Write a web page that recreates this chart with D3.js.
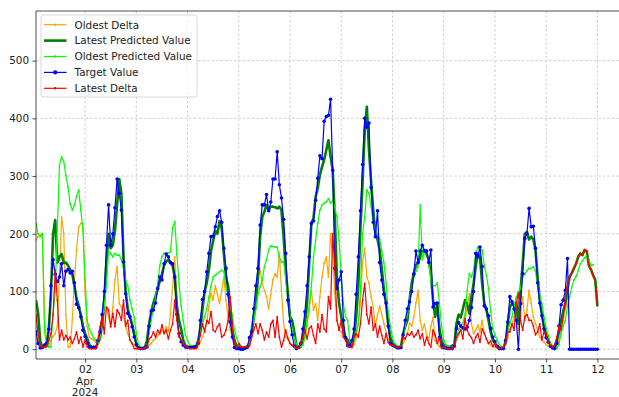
<!DOCTYPE html>
<html>
<head>
<meta charset="utf-8">
<script src="https://cdn.jsdelivr.net/npm/d3@7"></script>
<style>
  html, body { margin: 0; padding: 0; background: #fff; }
  svg { display: block; font-family: "DejaVu Sans", sans-serif; }
</style>
</head>
<body>
<div id="chart"></div>
<script>
// hourly readings, the first one is 2024-04-01 01:00, the last 2024-04-12 00:00
const startTime = new Date(2024, 3, 1, 1);

const targetValue = [
  30,10,2,3, 7,10,35,110, 155,130,117,125, 148,110,135,138, 132,135,115,78, 72,56,33,
  22,10,4,3, 3,3,15,30, 60,100,180,250, 180,200,245,295, 270,241,151,96, 62,56,39,21,
  8,2,1,1, 2,4,40,66, 68,80,105,125, 120,148,165,160, 150,148,125,60, 27,13,7,4,
  3,3,3,3, 4,10,50,86, 100,134,166,195, 196,212,230,240, 220,175,140,95, 47,21,3,1,
  1,0,0,2, 4,20,30,70, 110,140,215,250, 250,268,240,255, 295,295,342,285, 262,225,166,85,
  48,25,5,1, 3,10,35,65, 110,160,218,222, 258,296,335,330, 395,403,405,433, 310,140,105,120,
  134,50,20,6, 5,15,35,95, 160,240,320,400, 385,392,280,220, 195,240,150,120, 95,80,40,10,
  7,5,3,2, 3,25,50,70, 82,100,130,170, 150,170,180,170, 170,150,172,73, 79,80,20,7,
  3,2,1,1, 1,5,36,46, 40,37,35,38, 50,72,100,166, 160,177,143,75, 70,58,36,21,
  13,5,1,1, 1,15,47,91, 82,70,50,0, 79,131,192,200, 244,212,213,175, 115,80,58,35,
  20,12,5,2, 1,10,40,77, 85,102,157,0, 0,0,0,0, 0,0,0,0, 0,0,0,0, 0
];

const latestPredicted = [
  85,62,13,4, 4,5,35,95, 200,224,150,160, 165,150,150,145, 138,130,110,88, 75,60,40,
  27,18,8,4, 4,4,10,20, 45,85,150,200, 175,180,205,250, 295,270,160,100, 70,56,44,27,
  8,4,2,2, 3,15,45,65, 80,92,105,118, 130,145,152,155, 150,145,125,75, 50,35,15,6,
  4,4,4,5, 5,15,35,70, 100,115,137,170, 188,205,200,222, 210,165,125,110, 73,33,15,5,
  4,2,1,1, 3,10,30,55, 80,125,195,229, 238,250,241,247, 247,246,244,247, 241,195,137,97,
  56,50,30,7, 5,4,18,45, 79,150,218,227, 264,279,302,316, 328,345,362,334, 310,229,120,79,
  56,33,20,16, 8,7,21,56, 110,210,290,380, 420,345,290,240, 200,190,172,140, 102,79,44,21,
  10,6,4,4, 5,27,40,50, 85,114,131,146, 149,160,170,172, 165,155,130,85, 56,79,35,15,
  7,5,4,4, 6,8,45,60, 55,70,85,78, 62,91,114,143, 166,160,114,80, 68,50,30,16,
  10,5,3,3, 3,13,44,73, 79,76,82,44, 102,149,200,203, 190,195,190,172, 125,85,60,38,
  25,16,8,4, 4,15,30,50, 65,80,105,125, 132,140,148,160, 166,163,172,170, 145,138,128,120, 75
];

const oldestPredicted = [
  218,200,195,200, 30,8,4,4, 62,100,210,319, 333,325,301,281, 252,241,250,265, 276,241,206,
  120,50,35,27, 20,16,10,21, 50,75,110,170, 166,160,166,163, 163,155,140,120, 110,85,70,55,
  28,8,4,3, 3,4,28,50, 70,90,115,145, 160,166,166,167, 169,210,221,165, 114,75,50,25,
  15,7,5,4, 4,13,30,44, 56,70,90,110, 125,128,131,134, 137,134,108,91, 73,60,33,20,
  10,6,4,4, 4,10,40,50, 70,95,108,120, 143,155,172,179, 178,177,177,160, 150,152,120,85,
  56,33,20,10, 5,4,7,21, 50,73,108,160, 189,218,241,250, 253,255,261,253, 258,245,229,189,
  125,79,56,50, 16,10,15,30, 44,102,200,229, 276,270,247,218, 206,200,192,170, 150,115,65,40,
  21,10,6,4, 4,21,40,60, 85,105,125,135, 143,250,155,168, 172,150,120,110, 110,115,80,40,
  16,8,5,3, 3,7,20,33, 40,46,60,102, 131,125,137,166, 177,170,172,145, 128,105,65,35,
  25,16,8,4, 5,15,30,44, 56,75,90,99, 105,125,130,136, 140,140,143,135, 110,92,79,56,
  36,24,10,4, 2,1,8,28, 40,50,75,91, 108,120,126,136, 148,153,158,163, 155,145,146,null, null
];

const oldestDelta = [
  189,195,198,200, 60,10,7,16, 22,27,40,131, 229,200,60,4, 4,50,120,172, 212,218,218,
  96,39,21,18, 16,12,10,16, 39,62,73,56, 39,73,120,143, 79,73,56,39, 27,16,10,6,
  4,2,1,1, 1,3,7,10, 16,18,24,27, 33,27,39,30, 62,108,160,85, 50,30,16,5,
  4,3,2,2, 2,6,13,21, 33,44,75,97, 85,110,95,79, 102,125,85,56, 33,21,10,6,
  7,4,3,3, 2,5,21,44, 79,125,137,114, 102,91,70,95, 120,131,125,165, 102,44,21,21,
  10,7,5,4, 4,4,10,20, 40,70,102,68, 79,50,91,125, 149,160,125,200, 160,97,50,33,
  30,21,15,10, 6,4,8,20, 44,79,150,175, 125,114,91,72, 40,60,75,60, 44,30,18,10,
  6,4,3,3, 3,10,18,27, 45,40,56,80, 102,50,33,44, 25,16,40,55, 15,10,4,2,
  1,1,1,1, 1,5,15,25, 33,39,50,73, 96,44,27,33, 42,30,50,27, 18,10,7,4,
  4,2,1,1, 3,8,20,35, 44,56,73,33, 56,91,50,68, 102,79,56,44, 33,21,16,12,
  8,6,4,2, 2,5,15,30, 50,70,90,null, null,null,null,null, null,null,null,null, null,null,null,null, null
];

const latestDelta = [
  60,25,5,4, 4,6,15,27, 60,137,85,16, 33,16,24,16, 21,10,18,30, 10,21,4,
  16,4,1,1, 1,1,16,39, 56,27,73,68, 39,62,39,68, 62,50,85,40, 50,16,10,1,
  1,1,1,1, 2,4,18,21, 30,21,33,27, 42,27,33,18, 33,44,85,50, 21,16,10,5,
  3,1,1,1, 1,10,24,44, 30,50,45,65, 33,30,39,44, 21,24,33,50, 91,39,10,3,
  10,4,4,4, 4,6,20,33, 44,27,44,33, 16,30,21,44, 50,21,56,21, 4,15,33,18,
  10,7,4,2, 2,10,22,33, 18,36,40,24, 10,44,30,60, 35,30,91,70, 200,140,50,33,
  50,21,16,5, 4,3,21,27, 21,44,85,114, 60,44,73,33, 44,21,40,24, 10,27,12,7,
  7,5,4,3, 5,21,18,27, 24,30,21,25, 33,18,27,7, 21,10,4,33, 25,10,20,2,
  4,2,1,1, 1,4,21,27, 33,18,53,33, 25,20,10,21, 27,12,35,28, 18,10,14,5,
  10,4,1,2, 4,10,30,30, 44,33,79,97, 50,33,56,60, 50,50,40,25, 30,44,16,30,
  27,12,7,4, 8,20,40,33, 56,90,114,125, 132,140,148,160, 166,163,172,170, 145,138,128,120, 75
];

const seriesNames = ['Oldest Delta', 'Latest Predicted Value', 'Oldest Predicted Value', 'Target Value', 'Latest Delta'];
const yTicks = [0, 100, 200, 300, 400, 500];
const dayTicks = d3.range(2, 13).map(d => new Date(2024, 3, d));

const lengths = [targetValue, latestPredicted, oldestPredicted, oldestDelta, latestDelta].map(a => a.length);
if (lengths.some(n => n !== 264)) throw new Error('series lengths ' + lengths.join(','));

const width = 619, height = 397;
const plot = {left: 36, top: 11, bottom: 359, right: 623};

const x = d3.scaleTime()
  .domain([startTime, new Date(2024, 3, 12, 12)])
  .range([plot.left, plot.right]);
const y = d3.scaleLinear()
  .domain([-17, 586])
  .range([plot.bottom, plot.top]);

const svg = d3.select('#chart').append('svg')
  .attr('width', width)
  .attr('height', height);

svg.append('rect').attr('width', width).attr('height', height).attr('fill', '#fff');

svg.append('clipPath').attr('id', 'plotClip')
  .append('rect')
  .attr('x', plot.left).attr('y', plot.top)
  .attr('width', plot.right - plot.left).attr('height', plot.bottom - plot.top);

// grid
const grid = svg.append('g').attr('stroke', '#c4c4c4').attr('stroke-width', 0.8).attr('stroke-dasharray', '2.5,2');
grid.selectAll('.gx').data(dayTicks).enter().append('line')
  .attr('x1', d => x(d)).attr('x2', d => x(d))
  .attr('y1', plot.top).attr('y2', plot.bottom);
grid.selectAll('.gy').data(yTicks).enter().append('line')
  .attr('x1', plot.left).attr('x2', plot.right)
  .attr('y1', d => y(d)).attr('y2', d => y(d));

// series
const series = [
  {values: oldestDelta, color: 'orange', width: 1.2, r: 0.9},
  {values: latestPredicted, color: 'green', width: 2.6, r: 0},
  {values: oldestPredicted, color: 'lime', width: 1.2, r: 0.9},
  {values: targetValue, color: 'blue', width: 1.2, r: 1.8},
  {values: latestDelta, color: 'red', width: 1.2, r: 0.9}
].map((s, i) => {
  s.name = seriesNames[i];
  s.points = s.values.map((v, h) => ({t: d3.timeHour.offset(startTime, h), v: v}));
  return s;
});

const line = d3.line()
  .defined(d => d.v !== null)
  .x(d => x(d.t))
  .y(d => y(d.v));

const plotG = svg.append('g').attr('clip-path', 'url(#plotClip)');

series.forEach(s => {
  const g = plotG.append('g');
  g.append('path')
    .datum(s.points)
    .attr('fill', 'none')
    .attr('stroke', s.color)
    .attr('stroke-width', s.width)
    .attr('stroke-linejoin', 'round')
    .attr('d', line);
  if (s.r > 0) {
    g.selectAll('circle')
      .data(s.points.filter(d => d.v !== null))
      .enter().append('circle')
        .attr('cx', d => x(d.t))
        .attr('cy', d => y(d.v))
        .attr('r', s.r)
        .attr('fill', s.color);
  }
});

// axes
const fontSize = 10.4;
const yAxis = svg.append('g')
  .attr('transform', 'translate(' + plot.left + ',0)')
  .call(d3.axisLeft(y).tickValues(yTicks).tickSize(3.5).tickPadding(3.5));
const xAxis = svg.append('g')
  .attr('transform', 'translate(0,' + plot.bottom + ')')
  .call(d3.axisBottom(x).tickValues(dayTicks).tickFormat(d3.timeFormat('%d')).tickSize(3.5).tickPadding(3));

[xAxis, yAxis].forEach(a => {
  a.select('.domain').remove();
  a.selectAll('text').attr('font-size', fontSize).attr('font-family', '"DejaVu Sans", sans-serif').attr('fill', '#222');
  a.selectAll('line').attr('stroke', '#222').attr('stroke-width', 0.8);
});

// month and year below the first tick
['Apr', '2024'].forEach((t, i) => {
  svg.append('text')
    .attr('x', x(dayTicks[0]))
    .attr('y', 384.5 + i * 11.3)
    .attr('text-anchor', 'middle')
    .attr('font-size', fontSize)
    .attr('fill', '#222')
    .text(t);
});

// spines
const spines = svg.append('g').attr('stroke', '#222').attr('stroke-width', 0.8);
spines.append('line').attr('x1', plot.left).attr('x2', plot.left).attr('y1', plot.top).attr('y2', plot.bottom);
spines.append('line').attr('x1', plot.left).attr('x2', plot.right).attr('y1', plot.bottom).attr('y2', plot.bottom);
spines.append('line').attr('x1', plot.left).attr('x2', plot.right).attr('y1', plot.top).attr('y2', plot.top);

// legend
const legend = svg.append('g').attr('transform', 'translate(41,15)');
legend.append('rect')
  .attr('width', 156).attr('height', 82)
  .attr('rx', 2.5)
  .attr('fill', '#fff').attr('fill-opacity', 0.8)
  .attr('stroke', '#cfcfcf').attr('stroke-width', 0.8);

const rows = legend.selectAll('.row').data(series).enter().append('g')
  .attr('transform', (d, i) => 'translate(0,' + (9.7 + i * 15.9) + ')');
rows.append('line')
  .attr('x1', 3).attr('x2', 25.5)
  .attr('stroke', d => d.color)
  .attr('stroke-width', d => d.width);
rows.filter(d => d.r > 0).append('circle')
  .attr('cx', 14.2).attr('r', d => d.r + 0.3)
  .attr('fill', d => d.color);
rows.append('text')
  .attr('x', 33.5).attr('y', 3.8)
  .attr('font-size', fontSize)
  .attr('fill', '#222')
  .text(d => d.name);
</script>
</body>
</html>
